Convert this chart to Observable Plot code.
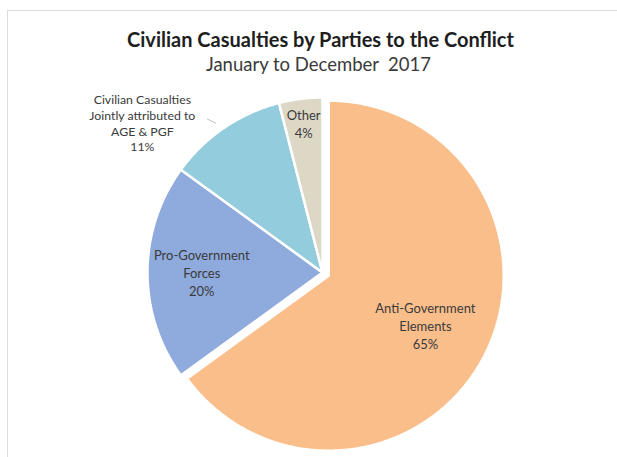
<!DOCTYPE html>
<html>
<head>
<meta charset="utf-8">
<script src="https://cdn.jsdelivr.net/npm/d3@7"></script>
<script src="https://cdn.jsdelivr.net/npm/@observablehq/plot@0.6"></script>
<style>
  html, body { margin: 0; padding: 0; background: #fff; }
  #page { position: relative; width: 617px; height: 457px; overflow: hidden; font-family: Lato, "Open Sans", sans-serif; }
  #frame { position: absolute; left: 7px; top: 10px; width: 700px; height: 600px; border-top: 1px solid #dcdcdc; border-left: 1px solid #dcdcdc; }
  #header { position: relative; height: 82px; }
  #title { position: absolute; left: 12px; width: 617px; top: 27px; text-align: center; font-weight: bold; font-size: 20px; line-height: 24px; color: #1e1e1e; }
  #subtitle { position: absolute; left: 10px; width: 617px; top: 52px; text-align: center; font-size: 18.5px; line-height: 24px; color: #3a3a3a; }
  #chart svg { display: block; }
</style>
</head>
<body>
<div id="page">
  <div id="frame"></div>
  <div id="header">
    <div id="title">Civilian Casualties by Parties to the Conflict</div>
    <div id="subtitle">January to December&nbsp; 2017</div>
  </div>
  <div id="chart"></div>
</div>
<script>
// ---- data ----
const categories = ["Anti-Government Elements", "Pro-Government Forces", "Civilian Casualties Jointly attributed to AGE & PGF", "Other"];
const shares = [65, 20, 11, 4];
const labelLines = [["Anti-Government", "Elements"], ["Pro-Government", "Forces"], ["Civilian Casualties", "Jointly attributed to", "AGE & PGF"], ["Other"]];
const pctLabels = ["65%", "20%", "11%", "4%"];
const colors = ["#FABE8B", "#8FAADC", "#93CDDD", "#DDD8C6"];

// ---- layout ----
const W = 617, H = 375;
const R = 175;           // pie radius in px
const cx = 322, cy = 190; // pie centre in px within svg
const explode = [0.04, 0, 0, 0];
const labelRadius = [0.62, 0.69, 1.34, 0.86];
const labelAngleNudge = [0, 0, -16, 0]; // degrees

const arcs = d3.pie().sort(null).value(d => d)(shares);

const points = [];
const labels = [];
arcs.forEach((a, i) => {
  const mid = (a.startAngle + a.endAngle) / 2;
  const ox = explode[i] * Math.sin(mid), oy = explode[i] * Math.cos(mid);
  points.push({cat: categories[i], i, x: ox, y: oy});
  const n = Math.max(8, Math.ceil((a.endAngle - a.startAngle) * 120));
  for (let k = 0; k <= n; k++) {
    const t = a.startAngle + (a.endAngle - a.startAngle) * k / n;
    points.push({cat: categories[i], i, x: ox + Math.sin(t), y: oy + Math.cos(t)});
  }
  const la = mid + labelAngleNudge[i] * Math.PI / 180;
  labels.push({
    cat: categories[i],
    text: labelLines[i].concat([pctLabels[i]]).join("\n"),
    x: ox + labelRadius[i] * Math.sin(la),
    y: oy + labelRadius[i] * Math.cos(la)
  });
});

const inner = labels.filter((d, i) => i !== 2);
const outer = labels.filter((d, i) => i === 2);
// leader line for the outside label
const leader = outer.map(d => ({x1: d.x + 0.37, y1: d.y + 0.02, x2: d.x + 0.42, y2: d.y - 0.005}));

const plot = Plot.plot({
  width: W,
  height: H,
  margin: 0,
  x: {domain: [-cx / R, (W - cx) / R], range: [0, W], axis: null},
  y: {domain: [-(H - cy) / R, cy / R], range: [H, 0], axis: null},
  color: {domain: categories, range: colors},
  style: {background: "transparent", fontFamily: "Lato, 'Open Sans', sans-serif"},
  marks: [
    Plot.line(points, {x: "x", y: "y", z: "cat", fill: "cat", stroke: "white", strokeWidth: 2.5, strokeLinejoin: "miter", curve: "linear-closed"}),
    Plot.link(leader, {x1: "x1", y1: "y1", x2: "x2", y2: "y2", stroke: "#bfbfbf", strokeWidth: 1}),
    Plot.text(inner, {x: "x", y: "y", text: "text", fontSize: 13, lineHeight: 1.38, fill: "#3a3a3a", textAnchor: "middle"}),
    Plot.text(outer, {x: "x", y: "y", text: "text", fontSize: 12.3, lineHeight: 1.3, fill: "#3a3a3a", textAnchor: "middle"})
  ]
});
document.getElementById("chart").appendChild(plot);
</script>
</body>
</html>
